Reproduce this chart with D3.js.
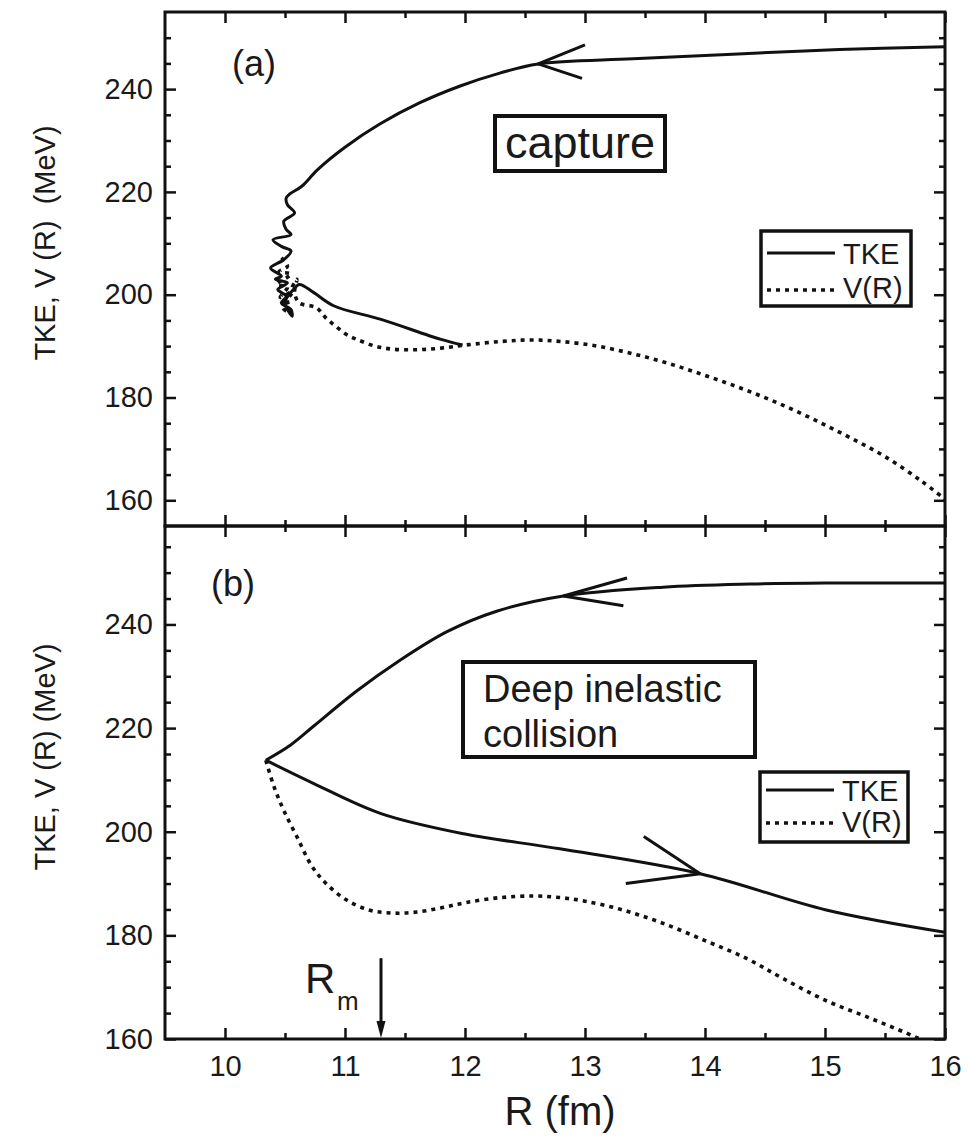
<html>
<head>
<meta charset="utf-8">
<script src="https://d3js.org/d3.v7.min.js"></script>
<style>
body { margin:0; background:#fff; }
text { font-family:"Liberation Sans", Arial, Helvetica, sans-serif; fill:#1a1a1a; }
.tick line { stroke:#111; stroke-width:2.5; }
</style>
</head>
<body>
<script>
// ---- data (R in fm, energy in MeV) ----
var rTicks = [10, 11, 12, 13, 14, 15, 16];
var eTicks = [160, 180, 200, 220, 240];

// panel (a): capture
var tkeA = [[16.0,248.25],[15.12,247.7],[14.23,246.8],[13.4,245.9],[12.61,244.9],[12.29,243.1],[11.96,240.6],
  [11.62,237.3],[11.29,233.2],[11.0,228.7],[10.77,224.3],[10.64,221.1],[10.54,219.6],
  [10.51,218.8],[10.52,217.5],[10.58,215.9],[10.49,214.3],[10.51,212.7],[10.55,211.7],[10.40,210.7],
  [10.47,209.4],[10.55,208.5],[10.49,206.8],[10.38,205.2],[10.47,203.6],[10.42,203.0],[10.52,202.3],
  [10.44,201.0],[10.51,199.7],[10.47,198.4],[10.55,197.1],[10.56,195.8],[10.50,198.5],[10.57,201.0],
  [10.62,202.0],[10.74,200.4],[10.91,197.8],[11.30,195.2],[11.80,191.3],[11.98,190.2]];
var vA = [[10.47,207.2],[10.52,205.5],[10.45,204.5],[10.55,204.0],[10.43,202.0],[10.52,201.5],[10.46,199.5],
  [10.56,200.5],[10.48,197.5],[10.55,196.5],[10.52,199.0],[10.60,203.0],[10.58,200.4],[10.62,198.4],
  [10.76,197.5],[10.84,195.5],[10.92,193.9],[11.01,192.3],[11.10,191.3],[11.25,190.0],[11.4,189.4],
  [11.6,189.3],[11.8,189.6],[12.0,190.2],[12.3,190.9],[12.55,191.2],[12.8,190.9],[13.1,190.0],[13.4,188.5],
  [13.7,186.6],[14.0,184.3],[14.3,181.8],[14.6,179.0],[14.9,175.8],[15.2,172.3],[15.5,168.5],[15.8,163.8],[16.0,160.2]];
var arrowsA = [{tip:[12.61,244.9], ends:[[13.00,248.6],[12.975,242.1]]}];

// panel (b): deep inelastic collision
var tkeBIn = [[16.0,248.0],[15.0,248.0],[14.38,247.8],[13.65,247.2],[12.82,245.5],[12.27,242.6],[11.85,238.6],
  [11.44,232.8],[11.10,227.2],[10.74,220.4],[10.55,216.8],[10.34,213.8]];
var tkeBOut = [[10.34,213.8],[10.74,209.3],[11.30,203.5],[11.99,199.6],[12.79,196.7],[13.96,191.9],
  [15.01,184.9],[16.0,180.6]];
var vB = [[10.34,213.8],[10.41,208.6],[10.49,204.1],[10.60,199.0],[10.72,193.5],[10.83,190.3],[11.0,187.0],
  [11.2,184.9],[11.4,184.3],[11.6,184.5],[11.8,185.3],[12.0,186.3],[12.3,187.3],[12.58,187.6],[12.79,187.3],
  [13.0,186.6],[13.3,185.0],[13.63,182.5],[14.0,179.0],[14.35,175.5],[14.64,171.8],[15.0,167.5],[15.4,163.8],
  [15.77,160.2],[16.0,157.5]];
var arrowsB = [{tip:[12.82,245.5], ends:[[13.35,248.96],[13.32,243.6]]},
               {tip:[13.96,191.9], ends:[[13.49,199.1],[13.34,190.0]]}];
var rmR = 11.3, rmTopE = 175.6;

// ---- layout ----
var W = 971, H = 1141;
var left = 165, right = 945;
var svg = d3.select("body").append("svg").attr("width", W).attr("height", H);

var x = d3.scaleLinear().domain([9.5, 16]).range([left, right]);

var panels = [
  {y0:12, y1:526, dom:[155,255], tke:[tkeA], v:vA, arrows:arrowsA},
  {y0:526, y1:1039, dom:[160,259], tke:[tkeBIn, tkeBOut], v:vB, arrows:arrowsB}
];

var xMinor = d3.range(10.5, 16, 1);

panels.forEach(function(p, i){
  var y = d3.scaleLinear().domain(p.dom).range([p.y1, p.y0]);
  p.y = y;
  var g = svg.append("g");
  var eMinor = d3.range(155, 260, 5).filter(function(v){ return v % 20 != 0 && v > p.dom[0] && v < p.dom[1]; });

  g.append("clipPath").attr("id", "clip" + i).append("rect")
    .attr("x", left).attr("y", p.y0).attr("width", right-left).attr("height", p.y1-p.y0);

  // axes, all ticks pointing inward
  function ax(axis, tr){
    var a = g.append("g").attr("transform", tr).call(axis);
    a.select(".domain").remove();
    return a;
  }
  var yl = ax(d3.axisLeft(y).tickValues(eTicks).tickSize(-11).tickPadding(12), "translate("+left+",0)");
  yl.selectAll("text").attr("font-size", 29).attr("fill", "#1a1a1a");
  ax(d3.axisLeft(y).tickValues(eMinor).tickSize(-6).tickFormat(""), "translate("+left+",0)");
  ax(d3.axisRight(y).tickValues(eTicks).tickSize(-11).tickFormat(""), "translate("+right+",0)");
  ax(d3.axisRight(y).tickValues(eMinor).tickSize(-6).tickFormat(""), "translate("+right+",0)");
  ax(d3.axisTop(x).tickValues(rTicks).tickSize(-11).tickFormat(""), "translate(0,"+p.y0+")");
  ax(d3.axisTop(x).tickValues(xMinor).tickSize(-6).tickFormat(""), "translate(0,"+p.y0+")");
  var xb = ax(d3.axisBottom(x).tickValues(rTicks).tickSize(-11).tickPadding(16)
      .tickFormat(i == 1 ? d3.format("d") : ""), "translate(0,"+p.y1+")");
  xb.selectAll("text").attr("font-size", 29).attr("fill", "#1a1a1a");
  ax(d3.axisBottom(x).tickValues(xMinor).tickSize(-6).tickFormat(""), "translate(0,"+p.y1+")");

  var lineGen = d3.line().x(function(d){ return x(d[0]); }).y(function(d){ return y(d[1]); })
    .curve(d3.curveCatmullRom.alpha(0.5));

  var data = g.append("g").attr("clip-path", "url(#clip"+i+")");
  data.append("path").attr("d", lineGen(p.v)).attr("fill", "none").attr("stroke", "#111")
    .attr("stroke-width", 3.6).attr("stroke-dasharray", "4,5");
  p.tke.forEach(function(seg){
    data.append("path").attr("d", lineGen(seg)).attr("fill", "none").attr("stroke", "#111")
      .attr("stroke-width", 3).attr("stroke-linejoin", "round");
  });

  p.arrows.forEach(function(a){
    a.ends.forEach(function(e){
      data.append("line").attr("x1", x(a.tip[0])).attr("y1", y(a.tip[1]))
        .attr("x2", x(e[0])).attr("y2", y(e[1])).attr("stroke", "#111").attr("stroke-width", 3);
    });
  });

  // frame
  g.append("rect").attr("x", left).attr("y", p.y0).attr("width", right-left).attr("height", p.y1-p.y0)
    .attr("fill", "none").attr("stroke", "#111").attr("stroke-width", 3);
});

// ---- annotations ----
svg.append("text").attr("x", 232).attr("y", 76).attr("font-size", 36).text("(a)");
svg.append("text").attr("x", 211).attr("y", 596).attr("font-size", 36).text("(b)");

svg.append("rect").attr("x", 495).attr("y", 116).attr("width", 170).attr("height", 55)
  .attr("fill", "#fff").attr("stroke", "#111").attr("stroke-width", 4);
svg.append("text").attr("x", 580).attr("y", 158).attr("text-anchor", "middle").attr("font-size", 45).text("capture");

svg.append("rect").attr("x", 463).attr("y", 662).attr("width", 292).attr("height", 95)
  .attr("fill", "#fff").attr("stroke", "#111").attr("stroke-width", 4);
svg.append("text").attr("x", 483).attr("y", 702).attr("font-size", 38).text("Deep inelastic");
svg.append("text").attr("x", 483).attr("y", 747).attr("font-size", 38).text("collision");

// legends
function legend(bx, by, bw, bh, ly1, ly2, t1, t2){
  svg.append("rect").attr("x", bx).attr("y", by).attr("width", bw).attr("height", bh)
    .attr("fill", "#fff").attr("stroke", "#111").attr("stroke-width", 3.5);
  svg.append("line").attr("x1", bx+6).attr("x2", bx+74).attr("y1", ly1).attr("y2", ly1)
    .attr("stroke", "#111").attr("stroke-width", 3);
  svg.append("line").attr("x1", bx+6).attr("x2", bx+74).attr("y1", ly2).attr("y2", ly2)
    .attr("stroke", "#111").attr("stroke-width", 3.6).attr("stroke-dasharray", "4,5");
  svg.append("text").attr("x", bx+82).attr("y", t1).attr("font-size", 29).text("TKE");
  svg.append("text").attr("x", bx+82).attr("y", t2).attr("font-size", 29).text("V(R)");
}
legend(761, 231, 150, 75, 253, 290, 264, 298);
legend(760, 772, 148, 70, 790, 823, 801, 832);

// R_m arrow
var yb = panels[1].y;
svg.append("line").attr("x1", x(rmR)).attr("x2", x(rmR)).attr("y1", yb(rmTopE)).attr("y2", yb(160) - 12)
  .attr("stroke", "#111").attr("stroke-width", 3);
svg.append("path").attr("d", "M" + (x(rmR)-4.5) + "," + (yb(160)-18) + "L" + (x(rmR)+4.5) + "," + (yb(160)-18)
  + "L" + x(rmR) + "," + (yb(160)-1) + "Z").attr("fill", "#111");
svg.append("text").attr("x", 305).attr("y", 993).attr("font-size", 42).text("R");
svg.append("text").attr("x", 337).attr("y", 1010).attr("font-size", 26).text("m");

// axis titles
svg.append("text").attr("transform", "translate(45,243) rotate(-90)").attr("text-anchor", "middle")
  .attr("dy", "0.35em").attr("font-size", 29).style("white-space", "pre").text("TKE, V (R)  (MeV)");
svg.append("text").attr("transform", "translate(45,757) rotate(-90)").attr("text-anchor", "middle")
  .attr("dy", "0.35em").attr("font-size", 29).text("TKE, V (R) (MeV)");
svg.append("text").attr("x", 560).attr("y", 1125).attr("text-anchor", "middle").attr("font-size", 40).text("R (fm)");
</script>
</body>
</html>
